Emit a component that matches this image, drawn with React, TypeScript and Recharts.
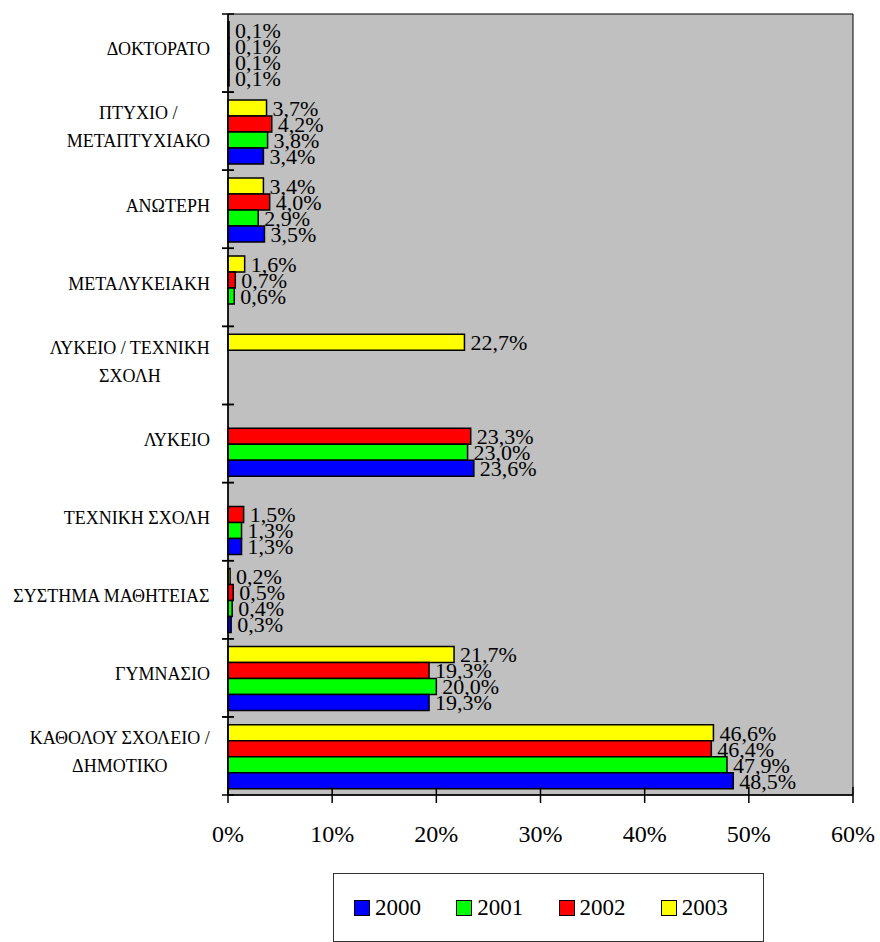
import React from 'react';
import {
  BarChart,
  Bar,
  XAxis,
  YAxis,
  CartesianGrid,
  ReferenceArea,
  LabelList,
  Legend,
} from 'recharts';

// education level, top to bottom as drawn
const LEVELS = [
  'ΔΟΚΤΟΡΑΤΟ',
  'ΠΤΥΧΙΟ / ΜΕΤΑΠΤΥΧΙΑΚΟ',
  'ΑΝΩΤΕΡΗ',
  'ΜΕΤΑΛΥΚΕΙΑΚΗ',
  'ΛΥΚΕΙΟ / ΤΕΧΝΙΚΗ ΣΧΟΛΗ',
  'ΛΥΚΕΙΟ',
  'ΤΕΧΝΙΚΗ ΣΧΟΛΗ',
  'ΣΥΣΤΗΜΑ ΜΑΘΗΤΕΙΑΣ',
  'ΓΥΜΝΑΣΙΟ',
  'ΚΑΘΟΛΟΥ ΣΧΟΛΕΙΟ / ΔΗΜΟΤΙΚΟ',
];

// percentages per year (null = no value for that year)
const Y2000 = [0.1, 3.4, 3.5, null, null, 23.6, 1.3, 0.3, 19.3, 48.5];
const Y2001 = [0.1, 3.8, 2.9, 0.6, null, 23.0, 1.3, 0.4, 20.0, 47.9];
const Y2002 = [0.1, 4.2, 4.0, 0.7, null, 23.3, 1.5, 0.5, 19.3, 46.4];
const Y2003 = [0.1, 3.7, 3.4, 1.6, 22.7, null, null, 0.2, 21.7, 46.6];

const X_TICKS = [0, 10, 20, 30, 40, 50, 60];

const SERIES = [
  { key: 'y2000', name: '2000', color: '#0000FF', values: Y2000 },
  { key: 'y2001', name: '2001', color: '#00FF00', values: Y2001 },
  { key: 'y2002', name: '2002', color: '#FF0000', values: Y2002 },
  { key: 'y2003', name: '2003', color: '#FFFF00', values: Y2003 },
];

const data = LEVELS.map((name, i) => {
  const row: Record<string, any> = { name };
  SERIES.forEach((s) => {
    row[s.key] = s.values[i];
  });
  return row;
});

const FONT =
  "'Times New Roman', 'Liberation Serif', Tinos, 'Noto Serif', 'DejaVu Serif', Times, serif";
const CAT_SIZE = 18;

let ctx: CanvasRenderingContext2D | null = null;
const measure = (s: string) => {
  if (!ctx) ctx = document.createElement('canvas').getContext('2d');
  if (!ctx) return s.length * CAT_SIZE * 0.6;
  ctx.font = `${CAT_SIZE}px ${FONT}`;
  return ctx.measureText(s).width;
};

// simple greedy wrap, ~17 chars per line
const wrap = (label: string) => {
  const words = label.split(' ');
  const lines: string[] = [];
  let cur = '';
  words.forEach((w) => {
    const next = cur ? cur + ' ' + w : w;
    if (next.length > 17 && cur) {
      lines.push(cur);
      cur = w;
    } else {
      cur = next;
    }
  });
  if (cur) lines.push(cur);
  return lines;
};

const fmtPct = (v: any) =>
  v == null ? '' : `${Number(v).toFixed(1).replace('.', ',')}%`;

const CategoryTick = (props: any) => {
  const { x, y, payload } = props;
  const half = payload.offset || 0;
  const lines = wrap(String(payload.value));
  const widest = Math.max(...lines.map(measure));
  const cx = x - 18 - widest / 2;
  const lineH = 28;
  const top = y - 4 - ((lines.length - 1) * lineH) / 2;
  return (
    <g>
      <line x1={x - 6} x2={x + 6} y1={y - half} y2={y - half} stroke="#000" strokeWidth={1.5} />
      <line x1={x - 6} x2={x + 6} y1={y + half} y2={y + half} stroke="#000" strokeWidth={1.5} />
      <text textAnchor="middle" style={{ fontFamily: FONT, fontSize: CAT_SIZE }} fill="#000">
        {lines.map((l, i) => (
          <tspan key={i} x={cx} y={top + i * lineH} dy="0.35em">
            {l}
          </tspan>
        ))}
      </text>
    </g>
  );
};

const ValueTick = (props: any) => {
  const { x, y, payload } = props;
  return (
    <g>
      <line x1={x} x2={x} y1={y - 8} y2={y + 8} stroke="#000" strokeWidth={1.5} />
      <text
        x={x}
        y={y + 47}
        textAnchor="middle"
        style={{ fontFamily: FONT, fontSize: 24 }}
        fill="#000"
      >
        {`${payload.value}%`}
      </text>
    </g>
  );
};

const LegendBox = () => (
  <div
    style={{
      width: 431,
      height: 69,
      boxSizing: 'border-box',
      border: '1px solid #333',
      background: '#fff',
      display: 'flex',
      alignItems: 'center',
      paddingLeft: 20,
      fontFamily: FONT,
      fontSize: 23,
      color: '#000',
    }}
  >
    {SERIES.map((s) => (
      <div key={s.key} style={{ width: 108, display: 'flex', alignItems: 'center' }}>
        <span
          style={{
            display: 'inline-block',
            width: 14,
            height: 14,
            background: s.color,
            border: '1.5px solid #000',
            marginRight: 5,
          }}
        />
        <span>{s.name}</span>
      </div>
    ))}
  </div>
);

export default function App() {
  return (
    <div
      style={{
        position: 'absolute',
        left: 0,
        top: 0,
        width: 880,
        height: 942,
        background: '#fff',
        fontFamily: FONT,
      }}
    >
      <BarChart
        width={880}
        height={942}
        data={data}
        layout="vertical"
        margin={{ top: 14, right: 27, left: 0, bottom: 107 }}
        barCategoryGap="10%"
        barGap={0}
        style={{ fontFamily: FONT }}
      >
        <CartesianGrid horizontal={false} vertical={false} fill="#C0C0C0" fillOpacity={1} />
        <ReferenceArea x1={0} x2={60} fill="none" stroke="#000" strokeWidth={1} />
        <XAxis
          type="number"
          domain={[0, 60]}
          ticks={X_TICKS}
          interval={0}
          height={40}
          axisLine={{ stroke: '#000', strokeWidth: 1.5 }}
          tickLine={false}
          tickSize={0}
          tickMargin={0}
          tick={<ValueTick />}
        />
        <YAxis
          type="category"
          dataKey="name"
          width={228}
          interval={0}
          axisLine={{ stroke: '#000', strokeWidth: 1.5 }}
          tickLine={false}
          tickSize={0}
          tickMargin={0}
          tick={<CategoryTick />}
        />
        <Legend
          layout="vertical"
          align="center"
          verticalAlign="middle"
          wrapperStyle={{ left: 333, top: 873, width: 431, height: 69 }}
          content={() => <LegendBox />}
        />
        {[...SERIES].reverse().map((s) => (
          <Bar
            key={s.key}
            dataKey={s.key}
            name={s.name}
            fill={s.color}
            stroke="#000"
            strokeWidth={1.5}
            isAnimationActive={false}
          >
            <LabelList
              dataKey={s.key}
              position="right"
              offset={6}
              formatter={fmtPct}
              fill="#000"
              style={{ fontFamily: FONT, fontSize: 22 }}
            />
          </Bar>
        ))}
      </BarChart>
    </div>
  );
}
